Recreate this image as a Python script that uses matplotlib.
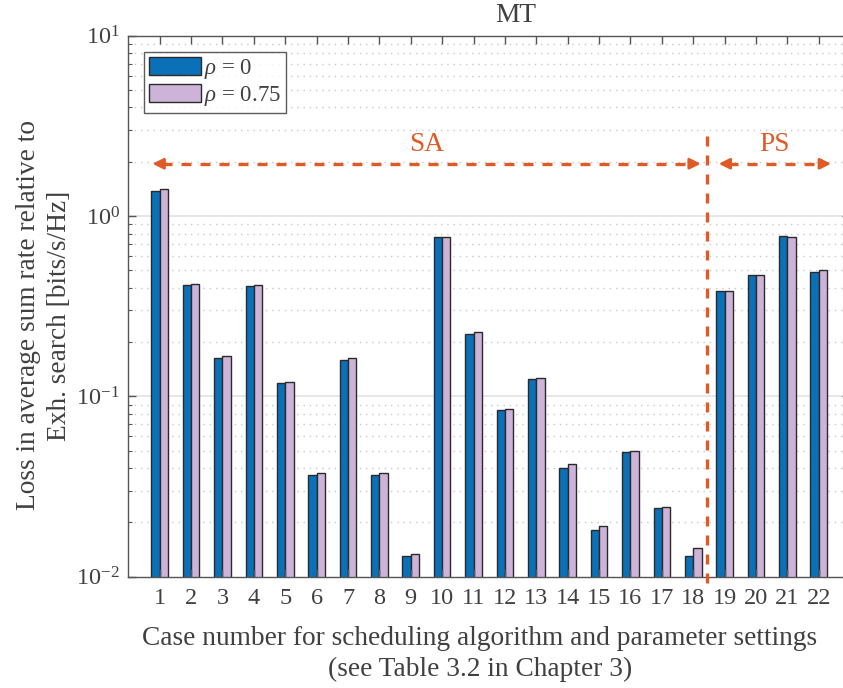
import matplotlib
matplotlib.use("Agg")
import matplotlib.pyplot as plt
import numpy as np
from matplotlib.ticker import LogLocator, FixedLocator, NullFormatter, FuncFormatter

plt.rcParams['font.family'] = ['Liberation Serif', 'DejaVu Serif']
plt.rcParams['mathtext.fontset'] = 'custom'
plt.rcParams['mathtext.rm'] = 'Liberation Serif'
plt.rcParams['mathtext.it'] = 'Liberation Serif:italic'

cases = list(range(1, 23))
rho0 = [1.38, 0.415, 0.162, 0.410, 0.118, 0.0358, 0.158, 0.0356, 0.0120, 0.764,
        0.220, 0.0828, 0.124, 0.0392, 0.0172, 0.0480, 0.0231, 0.0121,
        0.383, 0.468, 0.771, 0.489]
rho075 = [1.41, 0.418, 0.166, 0.416, 0.119, 0.0364, 0.162, 0.0366, 0.0124, 0.767,
          0.226, 0.0843, 0.126, 0.0410, 0.0182, 0.0489, 0.0235, 0.0135,
          0.381, 0.472, 0.767, 0.499]
series_labels = [r'$\rho$ = 0', r'$\rho$ = 0.75']
split_x = 18.43
sa_range = (0.77, 18.24)
ps_range = (18.81, 22.39)
arrow_y = 1.95

TXT = '#404040'
SP = '#555555'
BLUE = '#0a70b8'
PURP = '#cdb3d8'
ORNG = '#df5a26'
FS = 19.7
TFS = 17.5
LFS = 16.5

fig = plt.figure(figsize=(8.43, 6.88), dpi=100)
ax = fig.add_axes([0.1522, 0.1618, 0.8563, 0.7863])

x = np.array(cases, dtype=float)
w = 0.265
ax.bar(x - w/2, rho0, width=w, bottom=1e-3, color=BLUE, edgecolor='#2a2a2a',
       linewidth=1.0, label=series_labels[0], zorder=1)
ax.bar(x + w/2, rho075, width=w, bottom=1e-3, color=PURP, edgecolor='#2a2a2a',
       linewidth=1.0, label=series_labels[1], zorder=1)

ax.set_yscale('log')
ax.set_ylim(1e-2, 1e1)
ax.set_xlim(0, 23)

# grid drawn behind bars
for d in [-2, -1, 0]:
    for k in range(1, 10):
        yv = k * 10.0**d
        if k == 1:
            if d > -2:
                ax.axhline(yv, color='#e3e3e3', lw=1.2, zorder=0.5)
        else:
            ax.axhline(yv, color='#c8c8c8', lw=1.0, ls=(0, (1, 3.5)), zorder=0.5)

ax.xaxis.set_major_locator(FixedLocator(cases))
ax.set_xticklabels([str(c) for c in cases])
ax.yaxis.set_major_locator(LogLocator(base=10, numticks=10))
ax.yaxis.set_minor_locator(LogLocator(base=10, subs=np.arange(2, 10), numticks=20))
ax.yaxis.set_minor_formatter(NullFormatter())
ax.yaxis.set_major_formatter(FuncFormatter(lambda v, p: r'$10^{%d}$' % int(round(np.log10(v)))))

ax.tick_params(axis='both', which='major', direction='in', length=6, width=1,
               color=SP, labelsize=TFS, labelcolor=TXT, top=True, right=True)
ax.tick_params(axis='y', which='minor', direction='in', length=3, width=0.8,
               color=SP, right=True)
ax.tick_params(axis='x', pad=8)
ax.tick_params(axis='y', pad=6)
for s in ax.spines.values():
    s.set_color(SP)
    s.set_linewidth(1.0)

# vertical dashed separator
ax.plot([split_x, split_x], [0.00926, 2.82], color=ORNG, lw=2.4,
        dashes=(3, 2.7), clip_on=False, zorder=3)

# horizontal dashed arrows
for (x0, x1) in [sa_range, ps_range]:
    ax.plot([x0 + 0.3, x1 - 0.3], [arrow_y, arrow_y], color=ORNG, lw=2.4,
            dashes=(3, 2.7), zorder=3, solid_capstyle='butt')
    for tip, inner in [(x0, x0 + 0.35), (x1, x1 - 0.35)]:
        ax.annotate('', xy=(tip, arrow_y), xytext=(inner, arrow_y),
                    arrowprops=dict(arrowstyle='-|>', mutation_scale=16,
                                    color=ORNG, lw=2.0, shrinkA=0, shrinkB=0),
                    zorder=3)

ax.text((sa_range[0] + sa_range[1]) / 2, 2.12, 'SA', color=ORNG, fontsize=FS,
        ha='center', va='bottom')
ax.text((ps_range[0] + ps_range[1]) / 2, 2.12, 'PS', color=ORNG, fontsize=FS,
        ha='center', va='bottom')

leg = ax.legend(loc='upper left', bbox_to_anchor=(0.0217, 0.970), fontsize=LFS,
                frameon=True, fancybox=False, edgecolor='#333333',
                handlelength=2.25, handleheight=0.85, handletextpad=0.15,
                borderpad=0.22, labelspacing=0.12, borderaxespad=0)
leg.get_frame().set_linewidth(1.0)
for t in leg.get_texts():
    t.set_color(TXT)

ax.set_xlabel('Case number for scheduling algorithm and parameter settings\n(see Table 3.2 in Chapter 3)',
              fontsize=FS, color=TXT, linespacing=1.3)
ax.xaxis.set_label_coords(0.487, -0.092)
ax.set_ylabel('Loss in average sum rate relative to\nExh. search [bits/s/Hz]',
              fontsize=FS, color=TXT, linespacing=1.3)
ax.yaxis.set_label_coords(-0.078, 0.483)

fig.text(516 / 843, 1 - 15 / 688, 'MT', fontsize=FS, color=TXT,
         ha='center', va='center')

fig.savefig('out.png', dpi=100)
